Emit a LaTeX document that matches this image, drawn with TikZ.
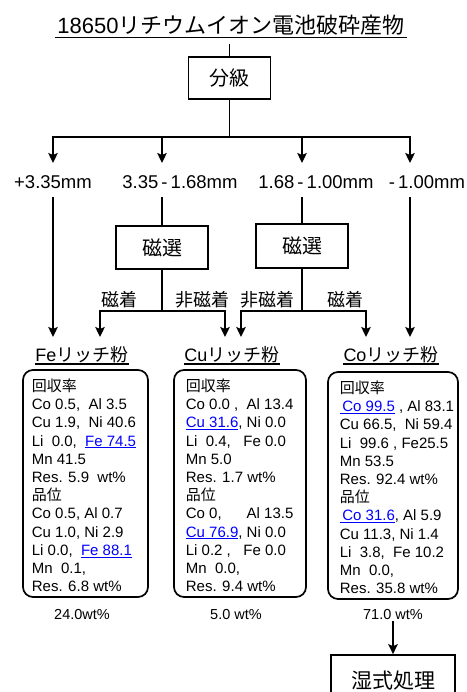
\documentclass[tikz,border=0pt]{standalone}
\usepackage{fontspec}
\setmainfont{Liberation Sans}
\newfontfamily\cjk{Noto Sans CJK JP}
\usetikzlibrary{arrows.meta}
\definecolor{lkblue}{RGB}{0,0,255}
\newcommand{\lk}[1]{\textcolor{lkblue}{\underline{#1}}}
\tikzset{
  arr/.style={-{Stealth[length=10pt,width=9.5pt,inset=2pt]}},
  sqbox/.style={draw, inner sep=0pt},
  rbox/.style={draw, rounded corners=10pt, inner sep=0pt},
  lbl/.style={font=\fontsize{18.5}{20}\selectfont, inner sep=0pt},
  jlbl/.style={font=\fontsize{18}{20}\selectfont\cjk, inner sep=0pt},
  head/.style={font=\fontsize{18}{20}\selectfont, inner sep=0pt},
  boxtext/.style={font=\fontsize{15}{18.2}\selectfont, align=left, inner sep=0pt, anchor=north west},
  pct/.style={font=\fontsize{14.5}{17}\selectfont, inner sep=0pt}
}
\begin{document}
\begin{tikzpicture}[x=1pt, y=-1pt, line width=1.7pt]
\clip (0,0) rectangle (466,692);
% title
\node[font=\fontsize{22}{26}\selectfont, inner xsep=2pt, inner ysep=1.5pt] (t) at (231,25) {18650{\cjk リチウムイオン電池破砕産物}};
\draw[line width=1.5pt] (t.south west) -- (t.south east);
\coordinate (t0) at (229.5,44);
\node[sqbox, minimum width=82pt, minimum height=42pt, font=\fontsize{20}{24}\selectfont\cjk] (cls) at (229.5,78) {分級};
\draw (t0) -- (cls);
\coordinate (j) at (229.5,137);
\draw (cls) -- (j);
\coordinate (a1) at (53,163);
\coordinate (a2) at (162,163);
\coordinate (a3) at (302,163);
\coordinate (a4) at (410,163);
\draw[arr] (j) -| (a1);
\draw[arr] (j) -| (a2);
\draw[arr] (j) -| (a3);
\draw[arr] (j) -| (a4);
% size labels
\node[lbl] (l1) at (53,182) {+3.35mm};
\node[lbl] (l2) at (180,182) {3.35\,-\,1.68mm};
\node[lbl] (l3) at (316,182) {1.68\,-\,1.00mm};
\node[lbl] (l4) at (427,182) {-\,1.00mm};
\coordinate (b1) at (53,197);
\coordinate (b2) at (162,197);
\coordinate (b3) at (302,197);
\coordinate (b4) at (410,197);
\coordinate (c1) at (53,337);
\coordinate (c2) at (100,337);
\coordinate (c3) at (225,337);
\coordinate (c4) at (241,337);
\coordinate (c5) at (366,337);
\coordinate (c6) at (410,337);
% magnetic separation
\node[sqbox, minimum width=92pt, minimum height=43pt, font=\fontsize{20}{24}\selectfont\cjk] (m1) at (162,247.5) {磁選};
\node[sqbox, minimum width=92pt, minimum height=44pt, font=\fontsize{20}{24}\selectfont\cjk] (m2) at (302,246) {磁選};
\draw[arr] (b1) -- (c1);
\draw (b2) -- (m1);
\draw (b3) -- (m2);
\draw[arr] (b4) -- (c6);
\coordinate (k1) at (162,311);
\coordinate (k2) at (302,311);
\draw (m1) -- (k1);
\draw (m2) -- (k2);
\draw[arr] (k1) -| (c2);
\draw[arr] (k1) -| (c3);
\draw[arr] (k2) -| (c4);
\draw[arr] (k2) -| (c5);
\node[jlbl] (s1) at (119,300) {磁着};
\node[jlbl] (s2) at (202,300) {非磁着};
\node[jlbl] (s3) at (267,300) {非磁着};
\node[jlbl] (s4) at (345,300) {磁着};
% headings
\node[head] (hFe) at (82,355) {Fe{\cjk リッチ粉}};
\node[head] (hCu) at (232,355) {Cu{\cjk リッチ粉}};
\node[head] (hCo) at (391,355) {Co{\cjk リッチ粉}};
\draw[line width=1.3pt] (hFe.south west) -- (hFe.south east);
\draw[line width=1.3pt] (hCu.south west) -- (hCu.south east);
\draw[line width=1.3pt] (hCo.south west) -- (hCo.south east);
% result boxes
\node[rbox, minimum width=125pt, minimum height=227pt] (bFe) at (85.5,483.5) {};
\node[rbox, minimum width=132pt, minimum height=227pt] (bCu) at (240,483.5) {};
\node[rbox, minimum width=130pt, minimum height=227pt] (bCo) at (393,485.5) {};
\node[boxtext] (tFe) at (31,378) {{\cjk 回収率}\\
Co 0.5,\ \ Al 3.5\\
Cu 1.9,\ \ Ni 40.6\\
Li\ \ 0.0,\ \ \lk{Fe 74.5}\\
Mn 41.5\\
Res. 5.9\ \ wt\%\\
{\cjk 品位}\\
Co 0.5, Al 0.7\\
Cu 1.0, Ni 2.9\\
Li 0.0,\ \ \lk{Fe 88.1}\\
Mn\ \ 0.1,\\
Res. 6.8 wt\%};
\node[boxtext] (tCu) at (185,378) {{\cjk 回収率}\\
Co 0.0 ,\ \ Al 13.4\\
\lk{Cu 31.6}, Ni 0.0\\
Li\ \ 0.4,\ \ \ Fe 0.0\\
Mn 5.0\\
Res. 1.7 wt\%\\
{\cjk 品位}\\
Co 0,\ \ \ \ \ \ Al 13.5\\
\lk{Cu 76.9}, Ni 0.0\\
Li 0.2 ,\ \ \ Fe 0.0\\
Mn\ \ 0.0,\\
Res. 9.4 wt\%};
\node[boxtext] (tCo) at (339,380) {{\cjk 回収率}\\
\lk{\,Co 99.5} , Al 83.1\\
Cu 66.5,\ \ Ni 59.4\\
Li\ \ 99.6 , Fe25.5\\
Mn 53.5\\
Res. 92.4 wt\%\\
{\cjk 品位}\\
\lk{\,Co 31.6}, Al 5.9\\
Cu 11.3, Ni 1.4\\
Li\ \ 3.8,\ \ Fe 10.2\\
Mn\ \ 0.0,\\
Res. 35.8 wt\%};
% percentages
\node[pct] (p1) at (82,615) {24.0wt\%};
\node[pct] (p2) at (236,615) {5.0 wt\%};
\node[pct] (p3) at (393,615) {71.0 wt\%};
\node[sqbox, minimum width=124pt, minimum height=51pt, font=\fontsize{21}{24}\selectfont\cjk] (wet) at (393,680.5) {湿式処理};
\draw[arr] (p3) -- (wet);
\end{tikzpicture}
\end{document}
